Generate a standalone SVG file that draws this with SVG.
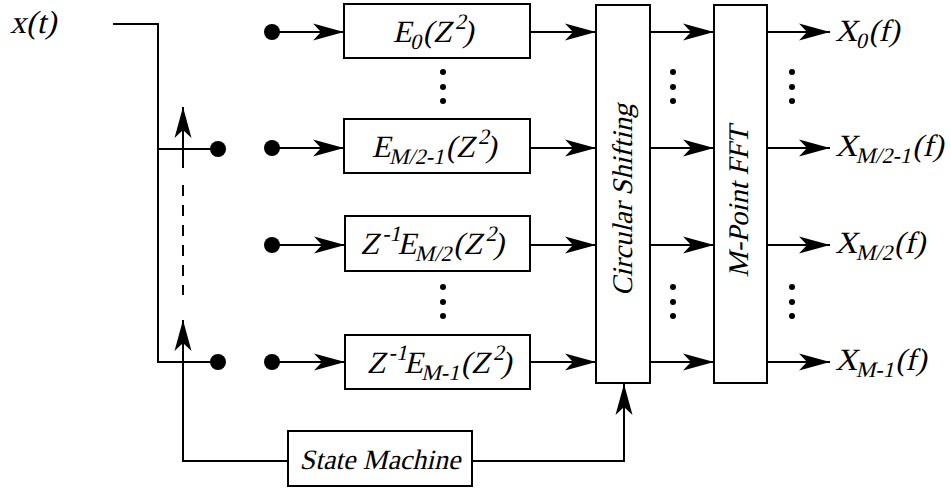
<svg xmlns="http://www.w3.org/2000/svg" width="951" height="491" viewBox="0 0 951 491">
<style>
.t{font-family:"Liberation Serif","Times New Roman",serif;font-style:normal;fill:#000}
.box{fill:#fff;stroke:#000;stroke-width:2}
.ln{fill:none;stroke:#000;stroke-width:2}
.arr{fill:none;stroke:#000;stroke-width:2;marker-end:url(#ah)}
.dot{fill:#000}
</style>
<defs>
<marker id="ah" markerUnits="userSpaceOnUse" viewBox="-32 -10 33 20" refX="0" refY="0" markerWidth="33" markerHeight="20" orient="auto">
<path d="M0,0 L-31,-8.5 L-23,0 L-31,8.5 Z" fill="#000"/>
</marker>
</defs>
<rect width="951" height="491" fill="#fff"/>

<g id="connectors">
<path class="ln" d="M113,24 H158 V362 H218 M158,149 H218"/>
<path class="arr" d="M183,168 V107"/>
<path class="ln" d="M183,185 V295" stroke-dasharray="11,9"/>
<path class="arr" d="M288,461 H183 V320"/>
<path class="arr" d="M472,461 H624 V384"/>
<path class="arr" d="M272,32 H344"/>
<path class="arr" d="M272,148 H344"/>
<path class="arr" d="M272,245 H345"/>
<path class="arr" d="M272,362 H345"/>
<path class="arr" d="M530,32 H596"/>
<path class="arr" d="M530,148 H596"/>
<path class="arr" d="M530,245 H596"/>
<path class="arr" d="M530,362 H596"/>
<path class="arr" d="M650,32 H714"/>
<path class="arr" d="M650,148 H714"/>
<path class="arr" d="M650,245 H714"/>
<path class="arr" d="M650,362 H714"/>
<path class="arr" d="M767,32 H830"/>
<path class="arr" d="M767,148 H830"/>
<path class="arr" d="M767,245 H830"/>
<path class="arr" d="M767,362 H830"/>
</g>

<g id="switch-dots">
<circle class="dot" cx="218" cy="149" r="8"/>
<circle class="dot" cx="218" cy="362" r="8"/>
<circle class="dot" cx="272" cy="32" r="8"/>
<circle class="dot" cx="272" cy="148" r="8"/>
<circle class="dot" cx="272" cy="245" r="8"/>
<circle class="dot" cx="272" cy="362" r="8"/>
</g>

<g id="ellipses">
<circle class="dot" cx="443" cy="72" r="3"/><circle class="dot" cx="443" cy="87" r="3"/><circle class="dot" cx="443" cy="101" r="3"/>
<circle class="dot" cx="443" cy="287" r="3"/><circle class="dot" cx="443" cy="302" r="3"/><circle class="dot" cx="443" cy="316" r="3"/>
<circle class="dot" cx="673" cy="72" r="3"/><circle class="dot" cx="673" cy="87" r="3"/><circle class="dot" cx="673" cy="101" r="3"/>
<circle class="dot" cx="673" cy="287" r="3"/><circle class="dot" cx="673" cy="302" r="3"/><circle class="dot" cx="673" cy="316" r="3"/>
<circle class="dot" cx="792" cy="72" r="3"/><circle class="dot" cx="792" cy="87" r="3"/><circle class="dot" cx="792" cy="101" r="3"/>
<circle class="dot" cx="792" cy="287" r="3"/><circle class="dot" cx="792" cy="302" r="3"/><circle class="dot" cx="792" cy="316" r="3"/>
</g>

<g id="input">
<text class="t" transform="translate(10,33) skewX(-13)" font-size="32">x(t)</text>
</g>

<g id="E0">
<rect class="box" x="344" y="4" width="186" height="54"/>
<text class="t" transform="translate(433,42) skewX(-13)" font-size="31" text-anchor="middle">E<tspan font-size="22" dy="7">0</tspan><tspan dy="-7">(Z</tspan><tspan font-size="22" dy="-13">2</tspan><tspan dy="13">)</tspan></text>
</g>

<g id="EM2m1">
<rect class="box" x="344" y="119" width="186" height="54"/>
<text class="t" transform="translate(434,157) skewX(-13)" font-size="31" text-anchor="middle">E<tspan font-size="22" dy="7">M/2-1</tspan><tspan dy="-7">(Z</tspan><tspan font-size="22" dy="-13">2</tspan><tspan dy="13">)</tspan></text>
</g>

<g id="EM2">
<rect class="box" x="345" y="216" width="185" height="55"/>
<text class="t" transform="translate(432,254) skewX(-13)" font-size="31" text-anchor="middle">Z<tspan font-size="22" dy="-13">-1</tspan><tspan dy="13">E</tspan><tspan font-size="22" dy="7">M/2</tspan><tspan dy="-7">(Z</tspan><tspan font-size="22" dy="-13">2</tspan><tspan dy="13">)</tspan></text>
</g>

<g id="EMm1">
<rect class="box" x="345" y="335" width="185" height="54"/>
<text class="t" transform="translate(439,373) skewX(-13)" font-size="31" text-anchor="middle">Z<tspan font-size="22" dy="-13">-1</tspan><tspan dy="13">E</tspan><tspan font-size="22" dy="7">M-1</tspan><tspan dy="-7">(Z</tspan><tspan font-size="22" dy="-13">2</tspan><tspan dy="13">)</tspan></text>
</g>

<g id="circular">
<rect class="box" x="596" y="5" width="54" height="378"/>
<text class="t" transform="translate(632,200) rotate(-90) skewX(-13)" font-size="28.5" text-anchor="middle">Circular Shifting</text>
</g>

<g id="fft">
<rect class="box" x="714" y="5" width="53" height="378"/>
<text class="t" transform="translate(748,202) rotate(-90) skewX(-13)" font-size="28.5" text-anchor="middle">M-Point FFT</text>
</g>

<g id="state">
<rect class="box" x="288" y="431" width="184" height="55"/>
<text class="t" transform="translate(380,469) skewX(-13)" font-size="28" text-anchor="middle">State Machine</text>
</g>

<g id="outputs">
<text class="t" transform="translate(835,41) skewX(-13)" font-size="31">X<tspan font-size="22" dy="7">0</tspan><tspan dy="-7">(f)</tspan></text>
<text class="t" transform="translate(835,156) skewX(-13)" font-size="31">X<tspan font-size="22" dy="7">M/2-1</tspan><tspan dy="-7">(f)</tspan></text>
<text class="t" transform="translate(835,253) skewX(-13)" font-size="31">X<tspan font-size="22" dy="7">M/2</tspan><tspan dy="-7">(f)</tspan></text>
<text class="t" transform="translate(835,370) skewX(-13)" font-size="31">X<tspan font-size="22" dy="7">M-1</tspan><tspan dy="-7">(f)</tspan></text>
</g>
</svg>
